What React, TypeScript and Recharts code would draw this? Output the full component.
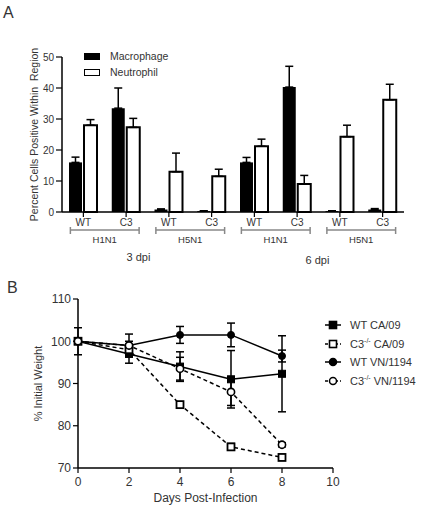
import React from 'react'
import { BarChart, Bar, LineChart, Line, XAxis, YAxis, ErrorBar, Legend } from 'recharts'

// panel A: percent of cells positive, one bar pair per strain/virus/day
const strains = ['WT', 'C3', 'WT', 'C3', 'WT', 'C3', 'WT', 'C3']
const viruses = ['H1N1', 'H5N1', 'H1N1', 'H5N1']
const dpiLabels = ['3 dpi', '6 dpi']
const macrophage = [16, 33.5, 0.8, 0.3, 16, 40.3, 0.3, 0.8]
const macrophageErr = [1.7, 6.5, 0.2, 0.1, 1.6, 6.7, 0.1, 0.3]
const neutrophil = [28, 27.3, 13, 11.5, 21.2, 9, 24.3, 36.2]
const neutrophilErr = [1.8, 2.9, 6, 2.3, 2.3, 2.8, 3.7, 5]
const yTicksA = [0, 10, 20, 30, 40, 50]

// panel B: weight over time, mean and error per day
const days = [0, 2, 4, 6, 8]
const wtCa = [100, 97, 94, 91, 92.3]
const wtCaErr = [3.2, 2.2, 3.5, 6.8, 9]
const c3Ca = [100, 98, 85, 75, 72.5]
const c3CaErr = [0.4, 1, 0.6, 0.8, 0.5]
const wtVn = [100, 99, 101.5, 101.5, 96.5]
const wtVnErr = [0.4, 2.7, 2, 2.8, 1.4]
const c3Vn = [100, 99, 93.5, 88, 75.5]
const c3VnErr = [0.4, 1, 2.7, 3.2, 0.5]
const xTicksB = [0, 2, 4, 6, 8, 10]
const yTicksB = [70, 80, 90, 100, 110]

const FONT = '"Liberation Sans", Arial, sans-serif'
const INK = '#333'

const W = 430
const A_LEFT = 62
const A_RIGHT = 26
const BAND_A = (W - A_LEFT - A_RIGHT) / strains.length

const barRows = strains.map((s, i) => ({
  name: s,
  macro: macrophage[i],
  macroErr: [0, macrophageErr[i]],
  neut: neutrophil[i],
  neutErr: [0, neutrophilErr[i]],
}))

const lineRows = days.map((d, i) => ({
  day: d,
  wtCa: wtCa[i], wtCaErr: wtCaErr[i],
  c3Ca: c3Ca[i], c3CaErr: c3CaErr[i],
  wtVn: wtVn[i], wtVnErr: wtVnErr[i],
  c3Vn: c3Vn[i], c3VnErr: c3VnErr[i],
}))

function GroupTick({ x, y, payload, index }: any) {
  const pair = index % 2 === 0
  const half = index % 4 === 1
  return (
    <g fontFamily={FONT}>
      <text x={x} y={y + 9} textAnchor="middle" fontSize={10} fill={INK}>{payload.value}</text>
      {pair && (
        <g>
          <g stroke="#888" strokeWidth={1.5}>
            <line x1={x - 13} x2={x + BAND_A + 13} y1={y + 13} y2={y + 13} />
            <line x1={x - 13} x2={x - 13} y1={y + 10} y2={y + 17} />
            <line x1={x + BAND_A + 13} x2={x + BAND_A + 13} y1={y + 10} y2={y + 17} />
          </g>
          <text x={x + BAND_A / 2} y={y + 26} textAnchor="middle" fontSize={9.5} fill={INK}>
            {viruses[index / 2]}
          </text>
        </g>
      )}
      {half && (
        <text
          x={x + BAND_A / 2 + (index === 1 ? -9 : -1)}
          y={y + (index === 1 ? 44 : 47)}
          textAnchor="middle"
          fontSize={11}
          fill={INK}
        >
          {dpiLabels[(index - 1) / 4]}
        </text>
      )}
    </g>
  )
}

function LegendA() {
  const items = [
    { label: 'Macrophage', fill: '#000' },
    { label: 'Neutrophil', fill: '#fff' },
  ]
  return (
    <div style={{ fontFamily: FONT, fontSize: 10.5, color: INK }}>
      {items.map(it => (
        <div key={it.label} style={{ height: 16, display: 'flex', alignItems: 'center' }}>
          <span style={{ width: 14, height: 5, background: it.fill, border: '1.5px solid #000', marginRight: 10 }} />
          {it.label}
        </div>
      ))}
    </div>
  )
}

const sq = (filled: boolean) => (p: any) => (
  <rect key={p.index} x={p.cx - 3.5} y={p.cy - 3.5} width={7} height={7}
    fill={filled ? '#000' : '#fff'} stroke="#000" strokeWidth={filled ? 1 : 1.8} />
)
const circ = (filled: boolean) => (p: any) => (
  <circle key={p.index} cx={p.cx} cy={p.cy} r={filled ? 3.5 : 3.6}
    fill={filled ? '#000' : '#fff'} stroke="#000" strokeWidth={filled ? 1 : 1.6} />
)

const seriesB = [
  { key: 'wtCa', label: 'WT CA/09', ko: false, dashed: false, dot: sq(true), shape: 'sq', filled: true },
  { key: 'c3Ca', label: 'CA/09', ko: true, dashed: true, dot: sq(false), shape: 'sq', filled: false },
  { key: 'wtVn', label: 'WT VN/1194', ko: false, dashed: false, dot: circ(true), shape: 'circ', filled: true },
  { key: 'c3Vn', label: 'VN/1194', ko: true, dashed: true, dot: circ(false), shape: 'circ', filled: false },
]

function LegendB() {
  return (
    <div style={{ fontFamily: FONT, fontSize: 11, color: INK }}>
      {seriesB.map(s => (
        <div key={s.key} style={{ height: 18.5, display: 'flex', alignItems: 'center' }}>
          <svg width={23} height={12} style={{ marginRight: 2 }}>
            <line x1={0} x2={16} y1={6} y2={6} stroke="#000" strokeWidth={1.5}
              strokeDasharray={s.dashed ? '3 2' : undefined} />
            {s.shape === 'sq'
              ? <rect x={4.5} y={2.5} width={7} height={7} fill={s.filled ? '#000' : '#fff'} stroke="#000" strokeWidth={1.6} />
              : <circle cx={8} cy={6} r={3.5} fill={s.filled ? '#000' : '#fff'} stroke="#000" strokeWidth={1.5} />}
          </svg>
          {s.ko ? (
            <span>C3<sup style={{ fontSize: 7, verticalAlign: 5 }}>-/-</sup> {s.label}</span>
          ) : s.label}
        </div>
      ))}
    </div>
  )
}

export default function App() {
  return (
    <div style={{ position: 'absolute', left: 0, top: 0, width: W, height: 508, background: '#fff', fontFamily: FONT }}>
      <div style={{ position: 'absolute', left: 3, top: 4, fontSize: 16, color: INK }}>A</div>
      <div style={{ position: 'absolute', left: 7, top: 279, fontSize: 16, color: INK }}>B</div>

      <div style={{ position: 'absolute', left: 0, top: 0 }}>
        <BarChart width={W} height={280} data={barRows} barSize={13} barGap={2}
          margin={{ top: 57, right: A_RIGHT, bottom: 8, left: 0 }}>
          <XAxis dataKey="name" height={60} interval={0} tickSize={5} tickMargin={0}
            axisLine={{ stroke: '#000', strokeWidth: 1.5 }} tickLine={{ stroke: '#000', strokeWidth: 1.2 }}
            tick={<GroupTick />} />
          <YAxis domain={[0, 50]} ticks={yTicksA} width={A_LEFT} tickSize={6}
            axisLine={{ stroke: '#000', strokeWidth: 1.5 }} tickLine={{ stroke: '#000', strokeWidth: 1.2 }}
            tick={{ fontSize: 10, fill: INK, fontFamily: FONT }}
            label={{ value: 'Percent Cells Positive Within\u00a0 Region', angle: -90, position: 'center', dx: 3, fontSize: 10.5, fill: INK, fontFamily: FONT }} />
          <Legend layout="vertical" align="center" verticalAlign="middle" content={<LegendA />}
            wrapperStyle={{ left: 84, top: 48, width: 'auto', height: 'auto' }} />
          <Bar dataKey="macro" fill="#000" isAnimationActive={false}>
            <ErrorBar dataKey="macroErr" width={4} stroke="#000" strokeWidth={1.5} direction="y" />
          </Bar>
          <Bar dataKey="neut" fill="#fff" stroke="#000" strokeWidth={2} isAnimationActive={false}>
            <ErrorBar dataKey="neutErr" width={4} stroke="#000" strokeWidth={1.5} direction="y" />
          </Bar>
        </BarChart>
      </div>

      <div style={{ position: 'absolute', left: 0, top: 280 }}>
        <LineChart width={W} height={228} data={lineRows}
          margin={{ top: 19, right: 97, bottom: 4, left: 0 }}>
          <XAxis dataKey="day" type="number" domain={[0, 10]} ticks={xTicksB} height={36}
            tickSize={5} tickMargin={4}
            axisLine={{ stroke: '#000', strokeWidth: 1.5 }} tickLine={{ stroke: '#000', strokeWidth: 1.2 }}
            tick={{ fontSize: 12, fill: INK, fontFamily: FONT }}
            label={{ value: 'Days Post-Infection', position: 'insideBottom', offset: 2, fontSize: 12, fill: INK, fontFamily: FONT }} />
          <YAxis domain={[70, 110]} ticks={yTicksB} width={78} tickSize={5}
            axisLine={{ stroke: '#000', strokeWidth: 1.5 }} tickLine={{ stroke: '#000', strokeWidth: 1.2 }}
            tick={{ fontSize: 12, fill: INK, fontFamily: FONT }}
            label={{ value: '% Initial Weight', angle: -90, position: 'center', dx: -1, fontSize: 11, fill: INK, fontFamily: FONT }} />
          <Legend layout="vertical" align="center" verticalAlign="middle" content={<LegendB />}
            wrapperStyle={{ left: 325, top: 36, width: 'auto', height: 'auto' }} />
          {seriesB.map(s => (
            <Line key={s.key} dataKey={s.key} stroke="#000" strokeWidth={1.5}
              strokeDasharray={s.dashed ? '4 3' : undefined}
              dot={s.dot} activeDot={false} isAnimationActive={false}>
              <ErrorBar dataKey={`${s.key}Err`} width={4} stroke="#000" strokeWidth={1.5} direction="y" />
            </Line>
          ))}
        </LineChart>
      </div>
    </div>
  )
}
